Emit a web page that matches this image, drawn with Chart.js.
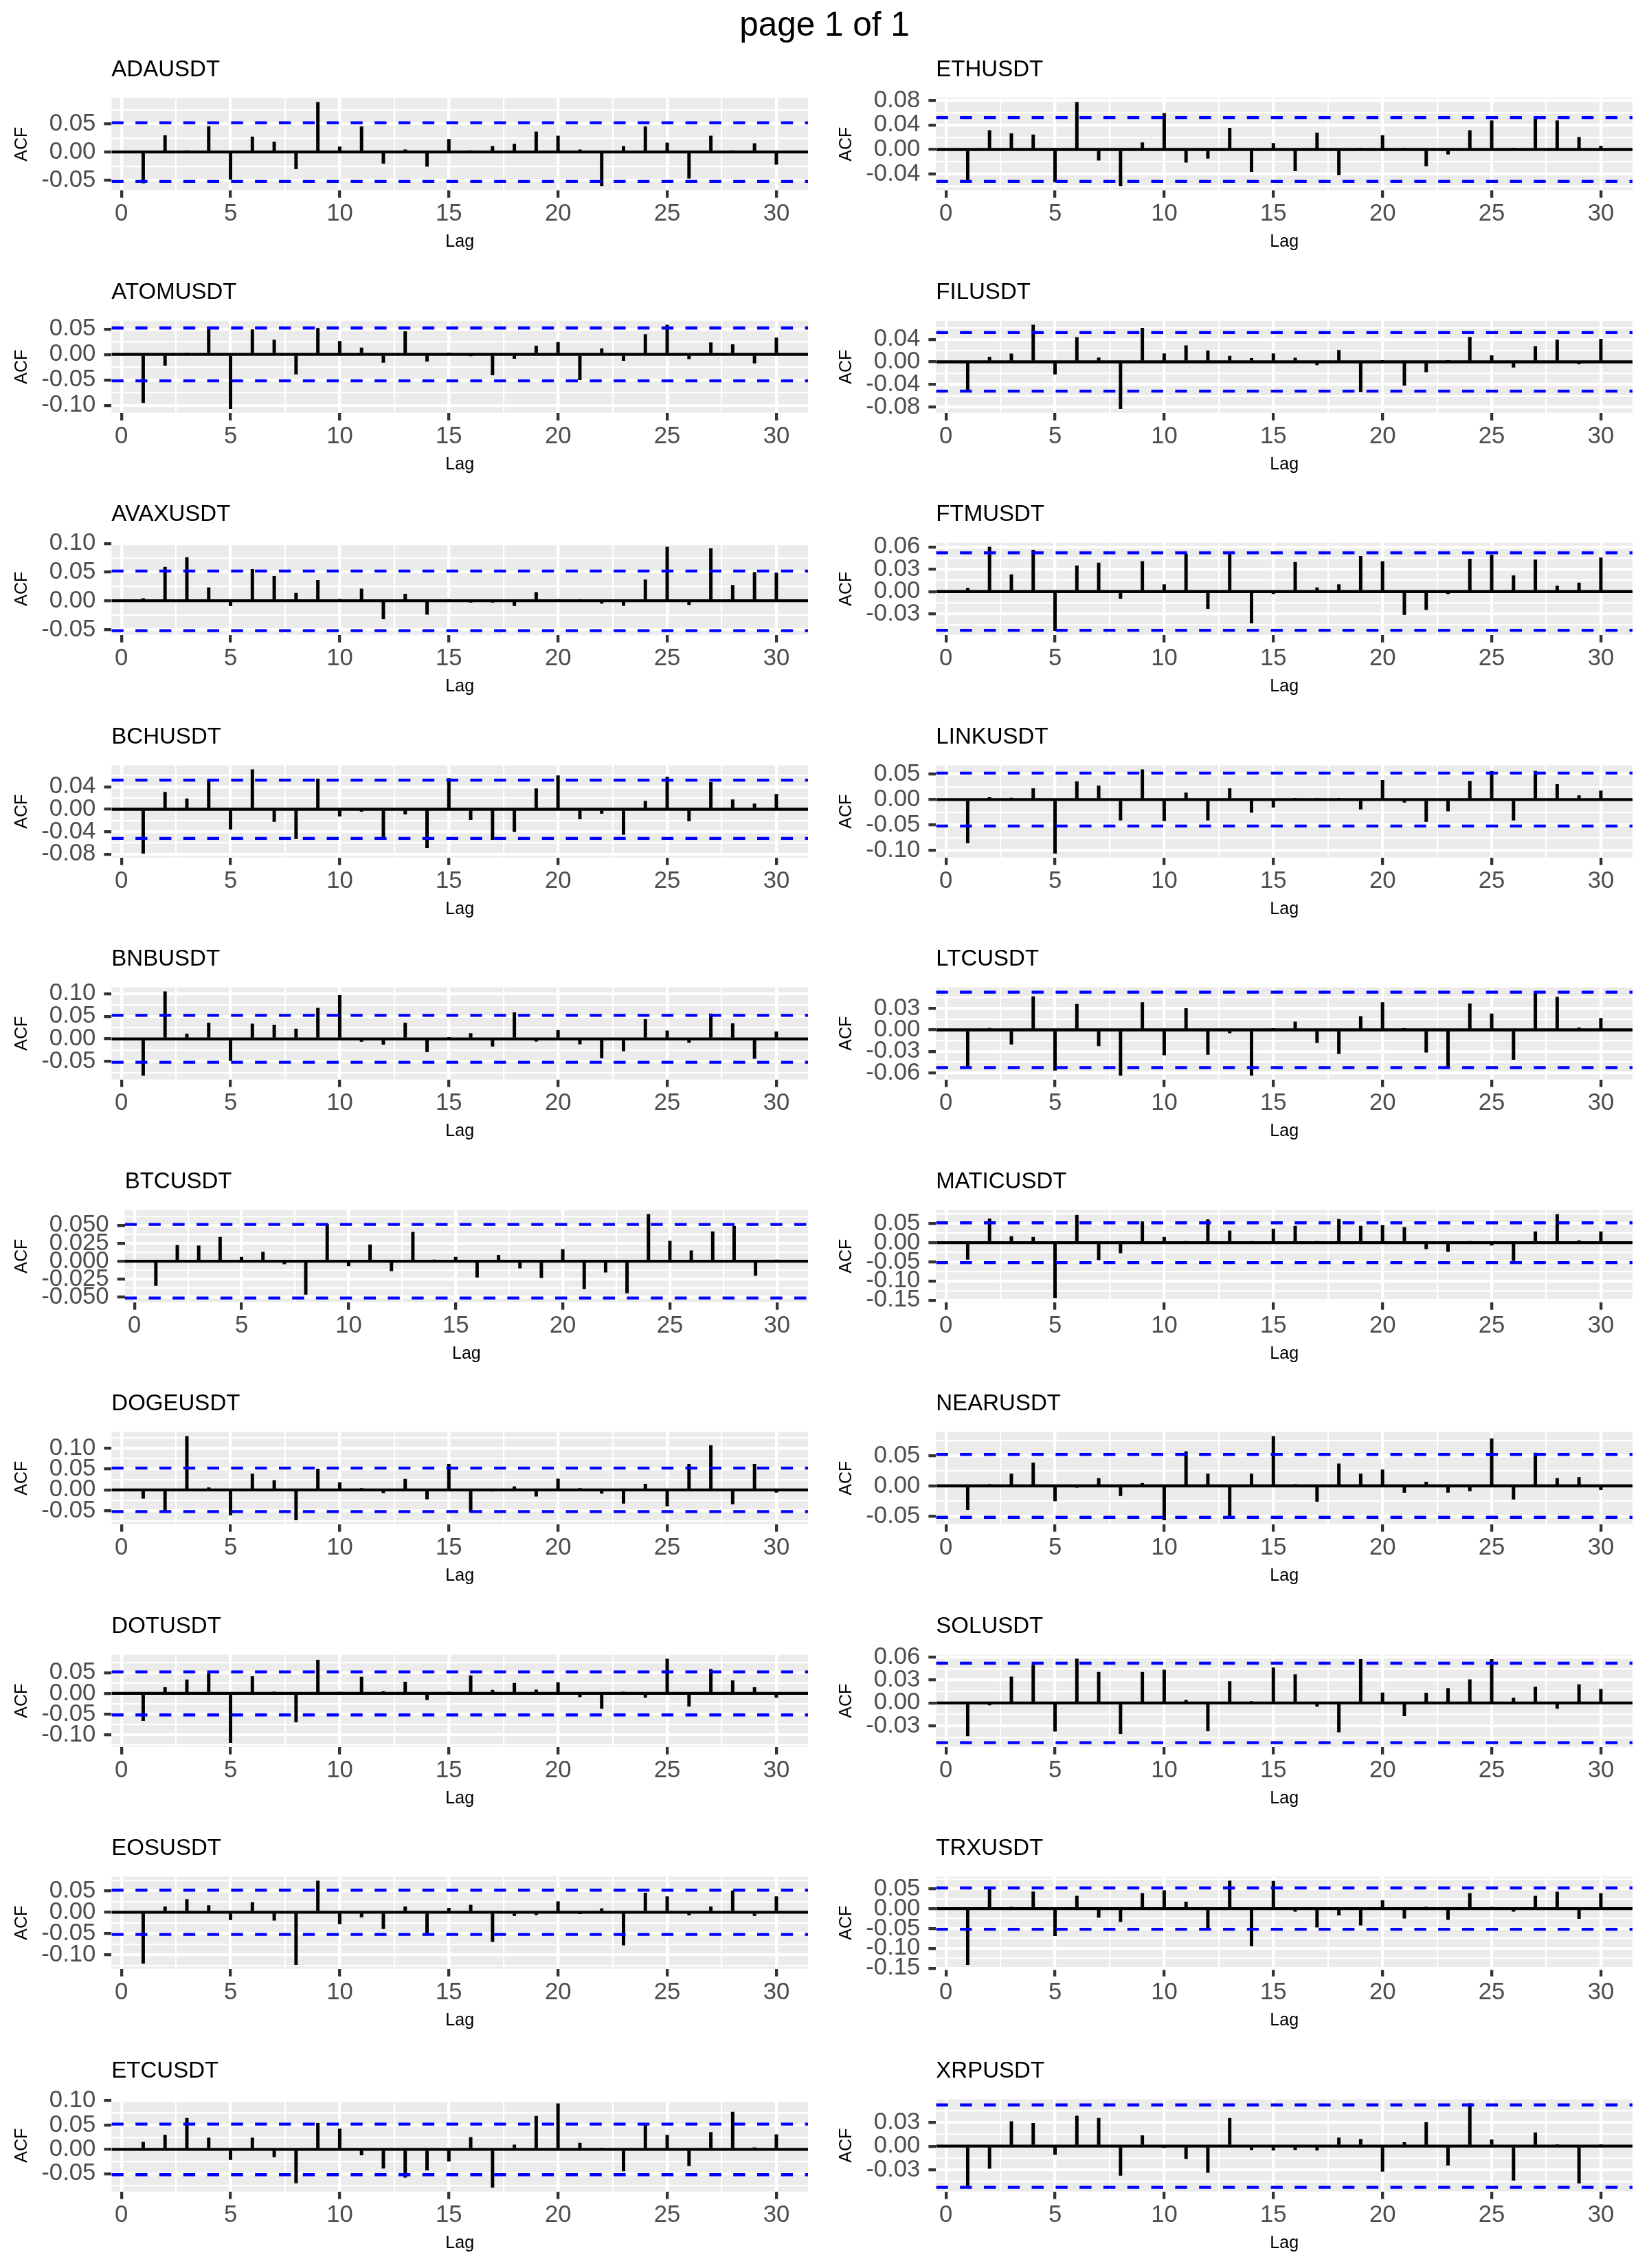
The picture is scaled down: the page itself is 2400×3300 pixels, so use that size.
<!DOCTYPE html>
<html>
<head>
<meta charset="utf-8">
<title>page 1 of 1</title>
<script src="https://cdn.jsdelivr.net/npm/chart.js@4.4.1/dist/chart.umd.min.js"></script>
<style>
html,body{margin:0;padding:0;background:#ffffff;}
body{width:2400px;height:3300px;position:relative;overflow:hidden;font-family:"Liberation Sans",Arial,Helvetica,sans-serif;}
#pageTitle{position:absolute;left:0;top:10px;width:2400px;text-align:center;font-size:49.5px;line-height:49.5px;color:#000;white-space:nowrap;}
canvas{position:absolute;}
</style>
</head>
<body>
<div id="pageTitle">page 1 of 1</div>
<script>
// ---------------- data ----------------
const lags = [1,2,3,4,5,6,7,8,9,10,11,12,13,14,15,16,17,18,19,20,21,22,23,24,25,26,27,28,29,30];
const xTickLabels = ["0","5","10","15","20","25","30"];

const panelNames = ["ADAUSDT","ATOMUSDT","AVAXUSDT","BCHUSDT","BNBUSDT","BTCUSDT","DOGEUSDT","DOTUSDT","EOSUSDT","ETCUSDT",
                    "ETHUSDT","FILUSDT","FTMUSDT","LINKUSDT","LTCUSDT","MATICUSDT","NEARUSDT","SOLUSDT","TRXUSDT","XRPUSDT"];

const acf_ADAUSDT  = [-0.0556,0.0295,0.001,0.0458,-0.049,0.027,0.018,-0.0299,0.0888,0.0093,0.0453,-0.0206,0.0041,-0.0258,0.0227,0.0021,0.0103,0.0144,0.0361,0.0288,0.0041,-0.0606,0.0103,0.0453,0.0165,-0.047,0.0287,0.0021,0.0152,-0.022];
const acf_ATOMUSDT = [-0.0948,-0.0217,0.003,0.054,-0.1067,0.0488,0.0287,-0.039,0.0515,0.026,0.013,-0.016,0.045,-0.0135,0.001,-0.001,-0.0406,-0.008,0.0168,0.0238,-0.050,0.0114,-0.012,0.0395,0.058,-0.0087,0.0233,0.0195,-0.0173,0.0325];
const acf_AVAXUSDT = [0.004,0.059,0.0757,0.023,-0.009,0.055,0.043,0.0135,0.0357,0.003,0.0207,-0.0318,0.012,-0.0236,0.001,-0.001,-0.001,-0.0087,0.015,0.001,0.001,-0.0043,-0.0082,0.0367,0.094,-0.0068,0.0912,0.027,0.0497,0.0487];
const acf_BCHUSDT  = [-0.0785,0.0304,0.019,0.0515,-0.0358,0.0707,-0.022,-0.0525,0.054,-0.0123,-0.004,-0.0505,-0.0088,-0.0687,0.055,-0.0186,-0.054,-0.040,0.0368,0.060,-0.0172,-0.0074,-0.045,0.0147,0.0574,-0.021,0.048,0.0172,0.0098,0.027];
const acf_BNBUSDT  = [-0.0808,0.1047,0.011,0.0355,-0.0484,0.033,0.0306,0.022,0.068,0.0961,-0.006,-0.0122,0.0355,-0.0288,0.001,0.0122,-0.0165,0.0582,-0.0055,0.019,-0.0116,-0.0423,-0.027,0.0429,0.0178,-0.008,0.0557,0.0337,-0.0435,0.0159];
const acf_BTCUSDT  = [-0.0338,0.0223,0.0215,0.0335,0.0058,0.0127,-0.0038,-0.0462,0.0515,-0.0065,0.023,-0.0135,0.0404,0.001,0.0058,-0.0223,0.0085,-0.0096,-0.0231,0.0165,-0.0385,-0.0154,-0.0442,0.0654,0.0281,0.0146,0.0412,0.0488,-0.020,0.001];
const acf_DOGEUSDT = [-0.0205,-0.0489,0.1282,0.0053,-0.0601,0.0383,0.0225,-0.072,0.0502,0.0178,0.001,-0.0073,0.0258,-0.0218,0.0615,-0.0535,-0.001,0.0079,-0.0152,0.0264,0.001,-0.0086,-0.0324,0.0139,-0.039,0.0615,0.1064,-0.0337,0.0615,-0.006];
const acf_DOTUSDT  = [-0.0661,0.0145,0.033,0.0482,-0.119,0.041,0.001,-0.0694,0.0806,0.001,0.0397,0.0046,0.0278,-0.0152,0.001,0.043,0.0079,0.0245,0.0086,0.0264,-0.0086,-0.0364,0.001,-0.0099,0.0833,-0.0311,0.0582,0.0311,0.0145,-0.0099];
const acf_EOSUSDT  = [-0.1197,0.0132,0.0303,0.0158,-0.0178,0.023,-0.0191,-0.123,0.0737,-0.0276,-0.0112,-0.0388,0.0132,-0.054,0.0099,0.0171,-0.0691,-0.0079,-0.0059,0.025,-0.002,0.0086,-0.077,0.0454,0.0368,-0.0066,0.0132,0.0507,-0.0079,0.0368];
const acf_ETCUSDT  = [0.015,0.0294,0.064,0.0237,-0.0213,0.0237,-0.0156,-0.0692,0.0537,0.0421,-0.0115,-0.0387,-0.0577,-0.0427,-0.0242,0.0248,-0.0779,0.0092,0.0681,0.094,0.0133,0.001,-0.0444,0.0537,0.0294,-0.034,0.0352,0.0767,0.0035,0.0306];
const acf_ETHUSDT  = [-0.0505,0.031,0.026,0.024,-0.053,0.077,-0.0176,-0.0595,0.011,0.059,-0.021,-0.0144,0.035,-0.036,0.010,-0.035,0.027,-0.0415,0.001,0.023,0.001,-0.027,-0.0077,0.031,0.047,0.001,0.052,0.047,0.020,0.0054];
const acf_FILUSDT  = [-0.0514,0.0083,0.0142,0.0656,-0.022,0.0436,0.0073,-0.0832,0.060,0.0147,0.0289,0.0196,0.0103,0.0064,0.0147,0.0069,-0.0054,0.0206,-0.053,0.001,-0.0416,-0.018,0.001,0.044,0.0113,-0.0098,0.0274,0.039,-0.004,0.0406];
const acf_FTMUSDT  = [0.0045,0.060,0.0229,0.0559,-0.0525,0.0349,0.0386,-0.0094,0.0405,0.0094,0.0506,-0.0229,0.0521,-0.0424,-0.003,0.0394,0.0053,0.0094,0.0476,0.0405,-0.0311,-0.0244,-0.003,0.0439,0.0491,0.0214,0.0427,0.0075,0.0116,0.0454];
const acf_LINKUSDT = [-0.0855,0.0043,0.0032,0.0217,-0.1056,0.0352,0.0271,-0.0406,0.059,-0.0417,0.0135,-0.0406,0.0217,-0.0254,-0.0152,0.001,0.003,0.001,-0.019,0.038,-0.0054,-0.0433,-0.0227,0.0363,0.0558,-0.0406,0.0558,0.0298,0.0081,0.0173];
const acf_LTCUSDT  = [-0.0514,0.0023,-0.020,0.0463,-0.0564,0.0359,-0.0224,-0.0633,0.0382,-0.0351,0.0297,-0.0344,-0.0046,-0.0633,0.0015,0.0112,-0.0178,-0.0332,0.0189,0.0382,0.001,-0.0313,-0.0514,0.0363,0.0224,-0.0413,0.0533,0.0456,0.0031,0.0162];
const acf_MATICUSDT= [-0.0433,0.0628,0.0166,0.0144,-0.1444,0.0722,-0.0448,-0.0267,0.0549,0.0144,0.001,0.0606,0.031,0.001,0.0361,0.0433,0.001,0.0614,0.0433,0.0455,0.0404,-0.0159,-0.0231,0.001,-0.0065,-0.0469,0.0289,0.0744,0.0058,0.0289];
const acf_NEARUSDT = [-0.0394,0.001,0.0197,0.0381,-0.0248,-0.001,0.0124,-0.0165,0.0046,-0.0564,0.0569,0.0197,-0.0509,0.0197,0.0821,0.001,-0.0257,0.0367,0.0197,0.0266,-0.011,0.0064,-0.0106,-0.0083,0.078,-0.022,0.0546,0.0124,0.0142,-0.0064];
const acf_SOLUSDT  = [-0.0432,-0.0029,0.0342,0.0497,-0.0371,0.0576,0.0403,-0.0403,0.0403,0.0432,0.0036,-0.0367,0.0281,0.001,0.0461,0.0371,-0.0047,-0.0382,0.0572,0.0133,-0.0169,0.013,0.0191,0.0306,0.0572,0.0065,0.0209,-0.0072,0.0241,0.018];
const acf_TRXUSDT  = [-0.141,0.0516,0.001,0.0425,-0.0683,0.0314,-0.0223,-0.0328,0.0383,0.0453,0.0167,-0.0488,0.0697,-0.0941,0.069,-0.007,-0.0467,-0.0167,-0.0418,0.0202,-0.0244,0.001,-0.0279,0.0383,0.001,-0.007,0.0314,0.0418,-0.0251,0.0383];
const acf_XRPUSDT  = [-0.0505,-0.0282,0.0311,0.0289,-0.0106,0.0381,0.0353,-0.0371,0.0134,-0.001,-0.0159,-0.0335,0.0353,-0.0046,-0.0053,-0.0046,-0.0053,0.0106,0.0088,-0.0318,0.0046,0.030,-0.024,0.0537,0.0081,-0.0431,0.0169,0.001,-0.0469,0.001];

// 95% confidence limits (blue dashed lines), same order as panelNames
const confLimits = [0.0523,0.052,0.052,0.052,0.052,0.0512,0.052,0.052,0.052,0.052,
                    0.052,0.052,0.052,0.052,0.0525,0.052,0.052,0.052,0.052,0.052];

// y tick labels, same order as panelNames
const yTickLabels = [
  ["-0.05","0.00","0.05"],
  ["-0.10","-0.05","0.00","0.05"],
  ["-0.05","0.00","0.05","0.10"],
  ["-0.08","-0.04","0.00","0.04"],
  ["-0.05","0.00","0.05","0.10"],
  ["-0.050","-0.025","0.000","0.025","0.050"],
  ["-0.05","0.00","0.05","0.10"],
  ["-0.10","-0.05","0.00","0.05"],
  ["-0.10","-0.05","0.00","0.05"],
  ["-0.05","0.00","0.05","0.10"],
  ["-0.04","0.00","0.04","0.08"],
  ["-0.08","-0.04","0.00","0.04"],
  ["-0.03","0.00","0.03","0.06"],
  ["-0.10","-0.05","0.00","0.05"],
  ["-0.06","-0.03","0.00","0.03"],
  ["-0.15","-0.10","-0.05","0.00","0.05"],
  ["-0.05","0.00","0.05"],
  ["-0.03","0.00","0.03","0.06"],
  ["-0.15","-0.10","-0.05","0.00","0.05"],
  ["-0.03","0.00","0.03"]
];

const acfSeries = [acf_ADAUSDT,acf_ATOMUSDT,acf_AVAXUSDT,acf_BCHUSDT,acf_BNBUSDT,acf_BTCUSDT,acf_DOGEUSDT,acf_DOTUSDT,acf_EOSUSDT,acf_ETCUSDT,
                   acf_ETHUSDT,acf_FILUSDT,acf_FTMUSDT,acf_LINKUSDT,acf_LTCUSDT,acf_MATICUSDT,acf_NEARUSDT,acf_SOLUSDT,acf_TRXUSDT,acf_XRPUSDT];

// ---------------- rendering ----------------
const FONT = "'Liberation Sans', Arial, Helvetica, sans-serif";
const LW = 4.3;            // ggplot 0.5 mm line
const LW_MINOR = 2.15;
const TICK_LEN = 11;
const PANEL_W = 1200, PANEL_H = 324;
const TOP_OFFSET = 65, ROW_PITCH = 323.5;

const lagSpan = lags[lags.length - 1] - lags[0];
const X_MIN = lags[0] - 0.05 * lagSpan;
const X_MAX = lags[lags.length - 1] + 0.05 * lagSpan;

function minorBreaks(majors, lo, hi) {
  const step = majors[1] - majors[0];
  const ext = [majors[0] - step].concat(majors, [majors[majors.length - 1] + step]);
  const out = [];
  for (let i = 0; i < ext.length - 1; i++) {
    const m = (ext[i] + ext[i + 1]) / 2;
    if (m >= lo && m <= hi) out.push(m);
  }
  return out;
}

function buildTicks(labels, lo, hi) {
  const majors = labels.map(parseFloat);
  const eps = 1e-9;
  const t = [];
  majors.forEach((v, k) => { if (v >= lo - eps && v <= hi + eps) t.push({value: v, lbl: labels[k], minor: false}); });
  minorBreaks(majors, lo, hi).forEach(v => t.push({value: v, lbl: '', minor: true}));
  t.sort((a, b) => a.value - b.value);
  return t;
}

const panelBg = {
  id: 'panelBg',
  beforeDraw(chart) {
    const {ctx, chartArea: a} = chart;
    ctx.save();
    ctx.fillStyle = '#EBEBEB';
    ctx.fillRect(a.left, a.top, a.right - a.left, a.bottom - a.top);
    ctx.restore();
  }
};

const isMinor = c => !!(c.tick && c.tick.minor);

function makePanel(i) {
  const name = panelNames[i];
  const values = acfSeries[i];
  const conf = confLimits[i];
  const lo0 = Math.min(...values, -conf, 0);
  const hi0 = Math.max(...values, conf, 0);
  const pad = (hi0 - lo0) * 0.05;
  const yMin = lo0 - pad, yMax = hi0 + pad;

  const col = i < 10 ? 0 : 1;
  const row = i % 10;
  const cv = document.createElement('canvas');
  cv.width = PANEL_W; cv.height = PANEL_H;
  cv.style.left = (col * PANEL_W) + 'px';
  cv.style.top = Math.round(TOP_OFFSET + row * ROW_PITCH) + 'px';
  cv.style.width = PANEL_W + 'px';
  cv.style.height = PANEL_H + 'px';
  document.body.appendChild(cv);

  const gridCommon = {
    color: '#FFFFFF',
    lineWidth: c => isMinor(c) ? LW_MINOR : LW,
    drawTicks: true,
    tickLength: TICK_LEN,
    tickColor: c => isMinor(c) ? 'rgba(0,0,0,0)' : '#333333',
    tickWidth: c => isMinor(c) ? 0 : LW
  };
  const tickFont = {family: FONT, size: 34.7, lineHeight: 1};

  new Chart(cv, {
    type: 'bar',
    data: {
      datasets: [
        {type: 'line', label: 'upper', data: [{x: X_MIN, y: conf}, {x: X_MAX, y: conf}],
         borderColor: '#0000FF', borderWidth: LW, borderDash: [17.4, 17.4], borderCapStyle: 'butt',
         pointRadius: 0, tension: 0, fill: false, order: 0},
        {type: 'line', label: 'lower', data: [{x: X_MIN, y: -conf}, {x: X_MAX, y: -conf}],
         borderColor: '#0000FF', borderWidth: LW, borderDash: [17.4, 17.4], borderCapStyle: 'butt',
         pointRadius: 0, tension: 0, fill: false, order: 0},
        {type: 'bar', label: name, data: lags.map((l, k) => ({x: l, y: values[k]})),
         backgroundColor: '#000000', borderWidth: 0, barThickness: LW, order: 1},
        {type: 'line', label: 'zero', data: [{x: X_MIN, y: 0}, {x: X_MAX, y: 0}],
         borderColor: '#000000', borderWidth: LW, borderCapStyle: 'butt',
         pointRadius: 0, tension: 0, fill: false, order: 2}
      ]
    },
    options: {
      responsive: false,
      animation: false,
      devicePixelRatio: 1,
      events: [],
      layout: {padding: {left: 0, right: 24, top: 0, bottom: 0}},
      plugins: {
        legend: {display: false},
        tooltip: {enabled: false},
        title: {
          display: true, text: name, align: 'start', fullSize: false, color: '#000000',
          font: {family: FONT, size: 33, weight: 'normal', lineHeight: 1},
          padding: {top: 20.4, bottom: 24.3}
        }
      },
      scales: {
        x: {
          type: 'linear', min: X_MIN, max: X_MAX, offset: false,
          grid: Object.assign({offset: false}, gridCommon),
          border: {display: false},
          afterBuildTicks: s => { s.ticks = buildTicks(xTickLabels, X_MIN, X_MAX); },
          ticks: {
            autoSkip: false, maxRotation: 0, minRotation: 0, padding: 6.25,
            color: '#4D4D4D', font: tickFont,
            callback: (v, k, t) => t[k].lbl
          },
          title: {
            display: true, text: 'Lag', color: '#000000',
            font: {family: FONT, size: 25, lineHeight: 1},
            padding: {top: 4.9, bottom: 24.2}
          }
        },
        y: {
          type: 'linear', min: yMin, max: yMax,
          grid: gridCommon,
          border: {display: false},
          afterBuildTicks: s => { s.ticks = buildTicks(yTickLabels[i], yMin, yMax); },
          ticks: {
            autoSkip: false, padding: 12,
            color: '#4D4D4D', font: tickFont,
            callback: (v, k, t) => t[k].lbl
          },
          title: {
            display: true, text: 'ACF', color: '#000000',
            font: {family: FONT, size: 25, lineHeight: 1},
            padding: {top: 20, bottom: 3.3}
          }
        }
      }
    },
    plugins: [panelBg]
  });
}

for (let i = 0; i < panelNames.length; i++) makePanel(i);
</script>
</body>
</html>
